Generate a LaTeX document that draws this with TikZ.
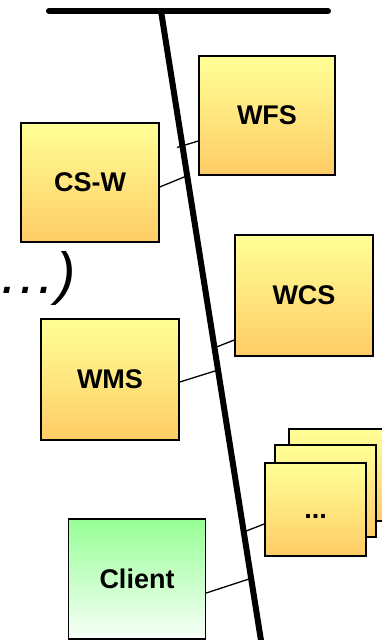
\documentclass[tikz,border=0pt]{standalone}
\usepackage{fontspec}
\setmainfont{Liberation Sans}
\usetikzlibrary{calc}
\definecolor{ylTop}{RGB}{255,255,150}
\definecolor{ylBot}{RGB}{255,204,102}
\definecolor{grTop}{RGB}{150,255,150}
\definecolor{grBot}{RGB}{248,255,248}
\tikzset{
  svc/.style={draw=black, line width=1.5pt, top color=ylTop, bottom color=ylBot,
    minimum width=#1, inner sep=0pt, font=\fontsize{27}{32}\selectfont\bfseries},
  svc/.default={137pt},
  client/.style={svc, top color=grTop, bottom color=grBot},
  bus/.style={line width=6pt, line cap=round},
  link/.style={line width=1.3pt},
}
\begin{document}
\begin{tikzpicture}[x=1pt,y=-1pt]
\useasboundingbox (0,0) rectangle (382,640);
\clip (0,0) rectangle (382,640);
% bus
\coordinate (hl) at (49,11);
\coordinate (hr) at (328,11);
\coordinate (vt) at (161,11);
\coordinate (vb) at (262.5,650);
\draw[bus] (hl) -- (hr);
\draw[line width=6pt] (vt) -- (vb);
% boxes
\node[svc=136pt, minimum height=119pt] (wfs) at (267,115.5) {WFS};
\node[svc=138pt, minimum height=119pt] (csw) at (90,182.5) {CS-W};
\node[svc=138pt, minimum height=121pt] (wcs) at (304,295.5) {WCS};
\node[svc=138pt, minimum height=121pt] (wms) at (110,379.5) {WMS};
\node[svc=101pt, minimum height=92pt] (s3) at (339.5,475) {};
\node[svc=101pt, minimum height=92pt] (s2) at (325.5,491) {};
\node[svc=101pt, minimum height=93pt] (s1) at (315.5,509.5) {\vphantom{W}...};
\node[client=136pt, minimum height=120pt] (cli) at (137,579) {Client};
% free text
\node[anchor=base east, inner sep=0pt, font=\fontsize{58}{64}\selectfont\itshape] (dots) at (76,293) {…)};
% connectors
\coordinate (e1) at (177,147.5);
\coordinate (e2) at (189,175);
\coordinate (e3) at (216.5,347);
\coordinate (e4) at (215,371);
\coordinate (e5) at (241,533);
\coordinate (e6) at (249,579);
\draw[link] ([yshift=-25.5pt]wfs.west) -- (e1);
\draw[link] ([yshift=-4.5pt]csw.east) -- (e2);
\draw[link] ([yshift=-44.5pt]wcs.west) -- (e3);
\draw[link] ([yshift=-2.5pt]wms.east) -- (e4);
\draw[link] ([yshift=-14.5pt]s1.west) -- (e5);
\draw[link] ([yshift=-14pt]cli.east) -- (e6);
\end{tikzpicture}
\end{document}
